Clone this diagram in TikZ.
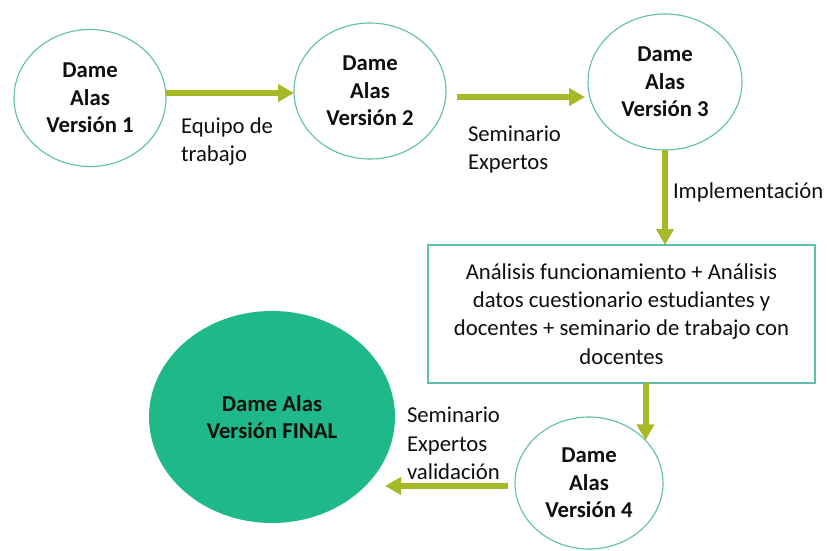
\documentclass[tikz,border=0pt]{standalone}
\usepackage{fontspec}
\setmainfont{Carlito}[Ligatures={NoCommon}]
\usetikzlibrary{arrows.meta,shapes.geometric}
\definecolor{tealline}{RGB}{95,190,172}
\definecolor{fingreen}{RGB}{31,184,136}
\definecolor{olivearrow}{RGB}{166,185,40}
\definecolor{txt}{RGB}{15,15,15}
\tikzset{
  ver/.style={ellipse, draw=tealline, line width=1.1pt, inner sep=0pt, outer sep=0pt,
    align=center, text=txt, font=\bfseries\fontsize{22.7}{27.5}\selectfont},
  finalver/.style={ellipse, fill=fingreen, draw=none, inner sep=0pt, outer sep=0pt,
    align=center, text=txt, font=\bfseries\fontsize{22.7}{27.5}\selectfont},
  lab/.style={align=left, inner sep=0pt, outer sep=0pt, text=txt,
    font=\fontsize{22.7}{28.3}\selectfont},
  procbox/.style={rectangle, draw=tealline, line width=1.4pt, inner sep=0pt, outer sep=0pt,
    align=center, text=txt, font=\fontsize{22.7}{28.3}\selectfont},
  arr/.style={draw=olivearrow, line width=6pt, -{Triangle[length=16pt,width=17pt]}}
}
\begin{document}
\begin{tikzpicture}[x=1pt,y=-1pt]
\useasboundingbox[fill=white] (0,0) rectangle (827,551);

% version nodes
\node[ver, minimum width=152pt, minimum height=137pt] (c1) at (90,98) {Dame\\Alas\\Versión 1};
\node[ver, minimum width=152pt, minimum height=136pt] (c2) at (370,91) {Dame\\Alas\\Versión 2};
\node[ver, minimum width=154pt, minimum height=136pt] (c3) at (665,82) {Dame\\Alas\\Versión 3};
\node[procbox, minimum width=387pt, minimum height=138pt] (box) at (621.5,314)
  {Análisis funcionamiento + Análisis\\datos cuestionario estudiantes y\\docentes + seminario de trabajo con\\docentes};
\node[ver, minimum width=148pt, minimum height=132pt] (c4) at (589,483) {Dame\\Alas\\Versión 4};
\node[finalver, minimum width=246pt, minimum height=212pt] (fin) at (272,417) {Dame Alas\\Versión FINAL};

% labels
\node[lab, anchor=west] (l1) at (181,141.5) {Equipo de\\trabajo};
\node[lab, anchor=west] (l2) at (468,149.8) {Seminario\\Expertos};
\node[lab, anchor=base west] (l3) at (673,198) {Implementación};
\node[lab, anchor=west] (l4) at (407,443.5) {Seminario\\Expertos\\validación};

% helper coordinates for arrow heights
\coordinate (r1) at (0,93);
\coordinate (r2) at (0,97);
\coordinate (r5) at (0,486);
\coordinate (a5end) at (385,486);

% connectors
\draw[arr] (c1.east |- r1) -- (c2.west |- r1);
\draw[arr, shorten <=11pt, shorten >=3pt] (c2.east |- r2) -- (c3.west |- r2);
\draw[arr] (c3.south) -- (c3.south |- box.north);
\draw[arr] (box.south -| c4.37.6) -- (c4.37.6);
\draw[arr, shorten <=7pt] (c4.west |- r5) -- (a5end);
\end{tikzpicture}
\end{document}
